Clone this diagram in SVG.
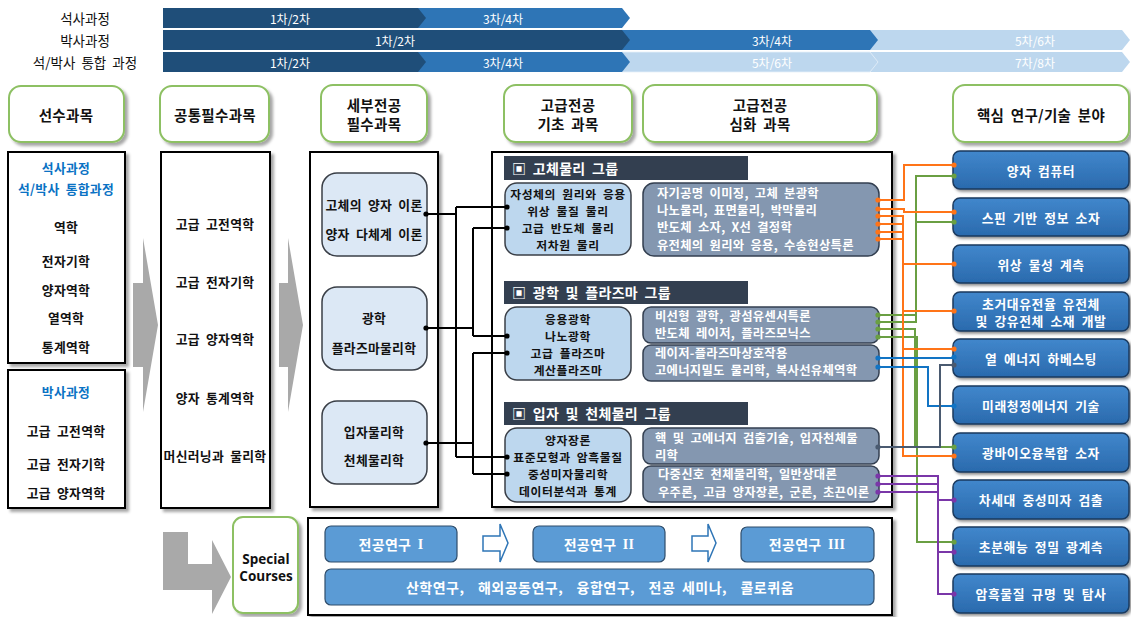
<svg xmlns="http://www.w3.org/2000/svg" width="1131" height="617" viewBox="0 0 1131 617">
<defs>
<filter id="sh" x="-10%" y="-10%" width="130%" height="130%"><feDropShadow dx="3" dy="3" stdDeviation="1.5" flood-color="#000" flood-opacity="0.35"/></filter>
<filter id="sh2" x="-10%" y="-20%" width="130%" height="150%"><feDropShadow dx="2" dy="2" stdDeviation="1.5" flood-color="#000" flood-opacity="0.45"/></filter>
<linearGradient id="rg" x1="0" y1="0" x2="0" y2="1"><stop offset="0" stop-color="#4187cc"/><stop offset="1" stop-color="#2a6aad"/></linearGradient>
</defs>
<style>
text{font-family:"Noto Sans CJK KR","Noto Sans",sans-serif;font-weight:bold;dominant-baseline:central;word-spacing:3px;letter-spacing:0.3px}
.c{text-anchor:middle}
.ban{font-weight:normal;font-size:12px;fill:#fff;letter-spacing:0}
.lab{font-weight:normal;font-size:13.5px;fill:#111;letter-spacing:0}
.hd{fill:#fff;stroke:#8dc063;stroke-width:2}
.ht{font-size:14.5px;fill:#111}
.bx{fill:#fff;stroke:#000;stroke-width:2}
.t12{font-size:12.8px;fill:#111}
.tb{font-size:11.8px;fill:#111;letter-spacing:0.6px}
.blue{font-size:12.8px;fill:#0a72c4}
.n1{fill:#dce8f5;stroke:#3a3f47;stroke-width:1.5}
.nb{fill:#bdd7ee;stroke:#3a3f47;stroke-width:1.5}
.na{fill:#8497b0;stroke:#333f50;stroke-width:1.5}
.at{font-size:12.3px;fill:#fff}
.gh{fill:#333f50}
.ght{font-size:14px;fill:#fff}
.rn{fill:url(#rg);stroke:#1b3a5e;stroke-width:1.5}
.rt{font-size:12.8px;fill:#fff;letter-spacing:0.6px}
.sb{fill:#5b9bd5;stroke:#2f4d6b;stroke-width:1.2}
.st{font-size:14px;fill:#fff}
.ga{fill:#a9a9a9}
.k{fill:none;stroke:#000;stroke-width:2}
.o{fill:none;stroke:#ff7418;stroke-width:2}
.g{fill:none;stroke:#6a9f43;stroke-width:2}
.b{fill:none;stroke:#1274c4;stroke-width:2}
.y{fill:none;stroke:#4a5a70;stroke-width:2}
.p{fill:none;stroke:#7a36a8;stroke-width:2}
.ha{fill:#fff;stroke:#2e75b6;stroke-width:1.5}
</style>

<g id="banner">
<text class="lab c" x="85" y="18">석사과정</text>
<text class="lab c" x="85" y="40">박사과정</text>
<text class="lab c" x="85" y="62">석/박사 통합 과정</text>
<polygon points="418,8 622,8 630,18 622,28 418,28" fill="#2e75b6"/>
<polygon points="163,8 418,8 426,18 418,28 163,28" fill="#1f4e79"/>
<text class="ban c" x="290" y="18">1차/2차</text>
<text class="ban c" x="503" y="18">3차/4차</text>
<polygon points="870,30 1122,30 1130,40 1122,50 870,50" fill="#bdd7ee"/>
<polygon points="622,30 870,30 878,40 870,50 622,50" fill="#2e75b6"/>
<polygon points="163,30 622,30 630,40 622,50 163,50" fill="#1f4e79"/>
<text class="ban c" x="395" y="40">1차/2차</text>
<text class="ban c" x="772" y="40">3차/4차</text>
<text class="ban c" x="1035" y="40">5차/6차</text>
<polygon points="870,52 1122,52 1130,62 1122,72 870,72" fill="#bdd7ee"/>
<polygon points="622,52 870,52 878,62 870,72 622,72" fill="#bdd7ee" stroke="#e6f0f9" stroke-width="0.8"/>
<polygon points="418,52 622,52 630,62 622,72 418,72" fill="#2e75b6"/>
<polygon points="163,52 418,52 426,62 418,72 163,72" fill="#1f4e79"/>
<text class="ban c" x="290" y="62">1차/2차</text>
<text class="ban c" x="503" y="62">3차/4차</text>
<text class="ban c" x="772" y="62">5차/6차</text>
<text class="ban c" x="1035" y="62">7차/8차</text>
</g>

<g id="headers">
<g id="h1"><rect class="hd" x="9" y="86" width="115" height="56" rx="12" filter="url(#sh)"/><text class="ht c" x="66" y="114">선수과목</text></g>
<g id="h2"><rect class="hd" x="160" y="86" width="109" height="56" rx="12" filter="url(#sh)"/><text class="ht c" x="215" y="114">공통필수과목</text></g>
<g id="h3"><rect class="hd" x="321" y="85" width="106" height="57" rx="12" filter="url(#sh)"/><text class="ht c" x="374" y="104">세부전공</text><text class="ht c" x="374" y="123">필수과목</text></g>
<g id="h4"><rect class="hd" x="504" y="85" width="128" height="57" rx="12" filter="url(#sh)"/><text class="ht c" x="568" y="104">고급전공</text><text class="ht c" x="568" y="123">기초 과목</text></g>
<g id="h5"><rect class="hd" x="643" y="85" width="234" height="57" rx="12" filter="url(#sh)"/><text class="ht c" x="760" y="104">고급전공</text><text class="ht c" x="760" y="123">심화 과목</text></g>
<g id="h6"><rect class="hd" x="953" y="85" width="176" height="57" rx="12" filter="url(#sh)"/><text class="ht c" x="1041" y="114">핵심 연구/기술 분야</text></g>
</g>

<g id="arrows-gray">
<polygon class="ga" points="133,283 143,283 143,238 158,325 143,412 143,367 133,367"/>
<polygon class="ga" points="279,283 288,283 288,238 303,325 288,412 288,367 279,367"/>
<polygon class="ga" points="163,532 188,532 188,564 212,564 212,540 231,577 212,614 212,590 163,590"/>
</g>

<g id="prereq-ms">
<rect class="bx" x="8" y="152" width="117" height="211" filter="url(#sh)"/>
<text class="blue c" x="66" y="167">석사과정</text>
<text class="blue c" x="66" y="188">석/박사 통합과정</text>
<text class="t12 c" x="66" y="226">역학</text>
<text class="t12 c" x="66" y="260">전자기학</text>
<text class="t12 c" x="66" y="289">양자역학</text>
<text class="t12 c" x="66" y="317">열역학</text>
<text class="t12 c" x="66" y="346">통계역학</text>
</g>
<g id="prereq-phd">
<rect class="bx" x="8" y="370" width="117" height="138" filter="url(#sh)"/>
<text class="blue c" x="66" y="391">박사과정</text>
<text class="t12 c" x="66" y="430">고급 고전역학</text>
<text class="t12 c" x="66" y="463">고급 전자기학</text>
<text class="t12 c" x="66" y="492">고급 양자역학</text>
</g>
<g id="common">
<rect class="bx" x="161" y="152" width="109" height="356" filter="url(#sh)"/>
<text class="t12 c" x="215" y="223">고급 고전역학</text>
<text class="t12 c" x="215" y="281">고급 전자기학</text>
<text class="t12 c" x="215" y="338">고급 양자역학</text>
<text class="t12 c" x="215" y="397">양자 통계역학</text>
<text class="t12 c" x="215" y="455">머신러닝과 물리학</text>
</g>

<g id="major-req">
<rect class="bx" x="310" y="152" width="128" height="355" filter="url(#sh)"/>
<g id="m1"><rect class="n1" x="322" y="173" width="105" height="83" rx="15"/><text class="t12 c" x="374" y="204">고체의 양자 이론</text><text class="t12 c" x="374" y="233">양자 다체계 이론</text></g>
<g id="m2"><rect class="n1" x="322" y="287" width="105" height="83" rx="15"/><text class="t12 c" x="374" y="317">광학</text><text class="t12 c" x="374" y="347">플라즈마물리학</text></g>
<g id="m3"><rect class="n1" x="322" y="401" width="105" height="83" rx="15"/><text class="t12 c" x="374" y="431">입자물리학</text><text class="t12 c" x="374" y="459">천체물리학</text></g>
</g>

<g id="groups">
<rect class="bx" x="492" y="152" width="400" height="355" filter="url(#sh)"/>
<g id="g1h"><rect class="gh" x="504" y="156" width="244" height="24"/><text class="ght" x="512" y="168">▣ 고체물리 그룹</text></g>
<g id="g2h"><rect class="gh" x="504" y="281" width="244" height="23"/><text class="ght" x="512" y="292">▣ 광학 및 플라즈마 그룹</text></g>
<g id="g3h"><rect class="gh" x="504" y="402" width="244" height="23"/><text class="ght" x="512" y="413">▣ 입자 및 천체물리 그룹</text></g>
<g id="b1"><rect class="nb" x="505" y="183" width="126" height="72" rx="12"/>
<text class="tb c" x="568" y="193">자성체의 원리와 응용</text><text class="tb c" x="568" y="210">위상 물질 물리</text><text class="tb c" x="568" y="227">고급 반도체 물리</text><text class="tb c" x="568" y="244">저차원 물리</text></g>
<g id="b2"><rect class="nb" x="505" y="307" width="126" height="73" rx="12"/>
<text class="tb c" x="568" y="318">응용광학</text><text class="tb c" x="568" y="335">나노광학</text><text class="tb c" x="568" y="352">고급 플라즈마</text><text class="tb c" x="568" y="369">계산플라즈마</text></g>
<g id="b3"><rect class="nb" x="505" y="428" width="126" height="74" rx="12"/>
<text class="tb c" x="568" y="439">양자장론</text><text class="tb c" x="568" y="456">표준모형과 암흑물질</text><text class="tb c" x="568" y="473">중성미자물리학</text><text class="tb c" x="568" y="490">데이터분석과 통계</text></g>
<g id="a1"><rect class="na" x="643" y="183" width="236" height="73" rx="11"/>
<text class="at" x="657" y="193">자기공명 이미징, 고체 분광학</text><text class="at" x="657" y="210">나노물리, 표면물리, 박막물리</text><text class="at" x="657" y="227">반도체 소자,  X선 결정학</text><text class="at" x="657" y="245">유전체의 원리와 응용, 수송현상특론</text></g>
<g id="a2"><rect class="na" x="643" y="307" width="236" height="36" rx="8"/>
<text class="at" x="655" y="316">비선형 광학, 광섬유센서특론</text><text class="at" x="655" y="333">반도체 레이저, 플라즈모닉스</text></g>
<g id="a3"><rect class="na" x="643" y="345" width="236" height="36" rx="8"/>
<text class="at" x="655" y="353">레이저-플라즈마상호작용</text><text class="at" x="655" y="370">고에너지밀도 물리학, 복사선유체역학</text></g>
<g id="a4"><rect class="na" x="643" y="428" width="236" height="36" rx="8"/>
<text class="at" x="655" y="438">핵 및 고에너지 검출기술, 입자천체물</text><text class="at" x="655" y="455">리학</text></g>
<g id="a5"><rect class="na" x="643" y="466" width="236" height="36" rx="8"/>
<text class="at" x="658" y="474">다중신호 천체물리학, 일반상대론</text><text class="at" x="658" y="492">우주론, 고급 양자장론, 군론, 초끈이론</text></g>
</g>

<g id="fields">
<g id="r1"><rect class="rn" x="953" y="151" width="176" height="38" rx="7" filter="url(#sh2)"/><text class="rt c" x="1041" y="170">양자 컴퓨터</text></g>
<g id="r2"><rect class="rn" x="953" y="198" width="176" height="38" rx="7" filter="url(#sh2)"/><text class="rt c" x="1041" y="217">스핀 기반 정보 소자</text></g>
<g id="r3"><rect class="rn" x="953" y="245" width="176" height="38" rx="7" filter="url(#sh2)"/><text class="rt c" x="1041" y="264">위상 물성 계측</text></g>
<g id="r4"><rect class="rn" x="953" y="292" width="176" height="39" rx="7" filter="url(#sh2)"/><text class="rt c" x="1041" y="303">초거대유전율 유전체</text><text class="rt c" x="1041" y="320">및 강유전체 소재 개발</text></g>
<g id="r5"><rect class="rn" x="953" y="339" width="176" height="38" rx="7" filter="url(#sh2)"/><text class="rt c" x="1041" y="358">열 에너지 하베스팅</text></g>
<g id="r6"><rect class="rn" x="953" y="386" width="176" height="38" rx="7" filter="url(#sh2)"/><text class="rt c" x="1041" y="405">미래청정에너지 기술</text></g>
<g id="r7"><rect class="rn" x="953" y="433" width="176" height="39" rx="7" filter="url(#sh2)"/><text class="rt c" x="1041" y="452">광바이오융복합 소자</text></g>
<g id="r8"><rect class="rn" x="953" y="480" width="176" height="39" rx="7" filter="url(#sh2)"/><text class="rt c" x="1041" y="499">차세대 중성미자 검출</text></g>
<g id="r9"><rect class="rn" x="953" y="527" width="176" height="39" rx="7" filter="url(#sh2)"/><text class="rt c" x="1041" y="546">초분해능 정밀 광계측</text></g>
<g id="r10"><rect class="rn" x="953" y="574" width="176" height="39" rx="7" filter="url(#sh2)"/><text class="rt c" x="1041" y="593">암흑물질 규명 및 탐사</text></g>
</g>

<g id="special">
<rect x="233" y="517" width="65" height="96" rx="10" fill="#fff" stroke="#8dc063" stroke-width="2" filter="url(#sh)"/>
<text class="c" x="266" y="559" style="font-family:'Open Sans','Liberation Sans',sans-serif;font-size:13.5px;fill:#111;letter-spacing:0">Special</text>
<text class="c" x="266" y="576" style="font-family:'Open Sans','Liberation Sans',sans-serif;font-size:13.5px;fill:#111;letter-spacing:0">Courses</text>
</g>
<g id="research">
<rect class="bx" x="308" y="518" width="584" height="97" filter="url(#sh)"/>
<g id="s1"><rect class="sb" x="325" y="526" width="132" height="36" rx="6"/><text class="st c" x="391" y="544">전공연구 <tspan style="font-family:'Liberation Serif',serif">I</tspan></text></g>
<g id="s2"><rect class="sb" x="533" y="526" width="132" height="36" rx="6"/><text class="st c" x="599" y="544">전공연구 <tspan style="font-family:'Liberation Serif',serif">II</tspan></text></g>
<g id="s3"><rect class="sb" x="741" y="527" width="133" height="35" rx="6"/><text class="st c" x="807" y="544">전공연구 <tspan style="font-family:'Liberation Serif',serif">III</tspan></text></g>
<g id="s4"><rect class="sb" x="325" y="569" width="549" height="36" rx="6"/><text class="st c" x="600" y="587" style="white-space:pre;word-spacing:3px;letter-spacing:0.5px">산학연구,  해외공동연구,  융합연구,  전공 세미나,  콜로퀴움</text></g>
<polygon class="ha" points="483,536 500,536 500,524 508,543 500,562 500,551 483,551"/>
<polygon class="ha" points="692,536 708,536 708,524 716,543 708,562 708,551 692,551"/>
</g>

<g id="connectors">
<path class="k" d="M426,214 H456 M456,207 V457 M456,207 H507 M456,457 H507"/>
<path class="k" d="M426,328 H473 M473,228 V336 M473,228 H507 M473,336 H507"/>
<path class="k" d="M426,443 H473 M473,353 V474 M473,353 H507 M473,474 H507"/>
<g fill="#000">
<circle cx="426" cy="214" r="2.6"/><circle cx="507" cy="207" r="2.6"/><circle cx="507" cy="457" r="2.6"/>
<circle cx="426" cy="328" r="2.6"/><circle cx="507" cy="228" r="2.6"/><circle cx="507" cy="336" r="2.6"/>
<circle cx="426" cy="443" r="2.6"/><circle cx="507" cy="353" r="2.6"/><circle cx="507" cy="474" r="2.6"/>
</g>
<path class="g" d="M878,315 H916 V176 H954 M878,322 H916 V222 H954 M878,329 H915 V447 H954 M878,337 H917 V542 H954"/>
<path class="o" d="M878,200 H904 V165 H954 M878,209 H904 V212 H954 M878,216 H903 V264 H954 M878,224 H903 V311 H954 M878,232 H903 V349 H954 M878,239 H903 V456 H954"/>
<path class="b" d="M878,358 H954 M878,367 H928 V406 H954"/>
<path class="y" d="M878,447 H940 V365 H954"/>
<path class="p" d="M878,476 H938 V500 H954 M878,484 H938 V552 H954 M878,492 H938 V594 H954"/>
<g fill="#ff7418">
<circle cx="878" cy="200" r="2.6"/><circle cx="878" cy="209" r="2.6"/><circle cx="878" cy="216" r="2.6"/><circle cx="878" cy="224" r="2.6"/><circle cx="878" cy="232" r="2.6"/><circle cx="878" cy="239" r="2.6"/>
<circle cx="954" cy="165" r="2.6"/><circle cx="954" cy="212" r="2.6"/><circle cx="954" cy="264" r="2.6"/><circle cx="954" cy="311" r="2.6"/><circle cx="954" cy="349" r="2.6"/><circle cx="954" cy="456" r="2.6"/>
</g>
<g fill="#6a9f43">
<circle cx="878" cy="315" r="2.6"/><circle cx="878" cy="322" r="2.6"/><circle cx="878" cy="329" r="2.6"/><circle cx="878" cy="337" r="2.6"/>
<circle cx="954" cy="176" r="2.6"/><circle cx="954" cy="222" r="2.6"/><circle cx="954" cy="447" r="2.6"/><circle cx="954" cy="542" r="2.6"/>
</g>
<g fill="#1274c4">
<circle cx="878" cy="358" r="2.6"/><circle cx="878" cy="367" r="2.6"/><circle cx="954" cy="357" r="2.6"/><circle cx="954" cy="406" r="2.6"/>
</g>
<g fill="#4a5a70"><circle cx="878" cy="447" r="2.6"/><circle cx="954" cy="365" r="2.6"/></g>
<g fill="#7a36a8">
<circle cx="878" cy="476" r="2.6"/><circle cx="878" cy="484" r="2.6"/><circle cx="878" cy="492" r="2.6"/>
<circle cx="954" cy="500" r="2.6"/><circle cx="954" cy="552" r="2.6"/><circle cx="954" cy="594" r="2.6"/>
</g>
</g>
</svg>
